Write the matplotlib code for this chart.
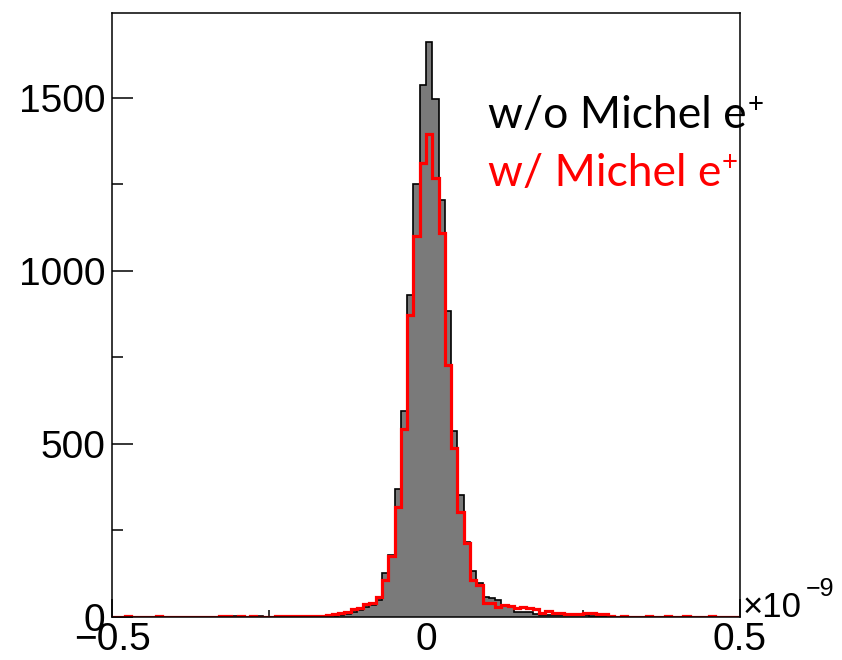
import numpy as np
import matplotlib
matplotlib.use("Agg")
import matplotlib.pyplot as plt
from matplotlib.ticker import MultipleLocator, FixedLocator

# ---- data (counts per bin, 100 bins from -0.5 to 0.5, x10^-9) ----
x_min, x_max, n_bins = -0.5, 0.5, 100

wo_michel = [
    0, 0, 1, 0, 0, 0, 0, 1, 0, 0,
    0, 0, 0, 0, 0, 0, 0, 1, 2, 2,
    1, 0, 1, 2, 0, 1, 2, 2, 1, 1,
    2, 2, 2, 3, 3, 4, 6, 9, 14, 20,
    28, 36, 50, 126, 180, 369, 596, 931, 1251, 1537,
    1661, 1496, 1205, 884, 536, 353, 216, 134, 98, 59,
    54, 49, 32, 28, 15, 15, 13, 8, 6, 6,
    6, 5, 5, 5, 5, 5, 4, 3, 2, 2,
    1, 1, 1, 0, 1, 0, 0, 1, 0, 0,
    0, 1, 0, 0, 0, 0, 0, 0, 0, 0,
]

w_michel = [
    0, 1, 4, 1, 0, 0, 0, 4, 1, 0,
    0, 0, 0, 0, 0, 0, 1, 4, 4, 1,
    4, 1, 4, 1, 1, 1, 4, 4, 4, 4,
    2, 3, 4, 4, 5, 8, 12, 15, 24, 26,
    38, 39, 59, 107, 177, 318, 543, 873, 1099, 1310,
    1395, 1267, 1110, 728, 488, 304, 214, 107, 92, 40,
    40, 28, 35, 33, 26, 28, 25, 22, 12, 17,
    12, 12, 10, 10, 10, 12, 12, 10, 8, 2,
    1, 4, 1, 0, 1, 4, 1, 0, 4, 1,
    0, 4, 1, 0, 1, 4, 1, 0, 0, 1,
]

x_ticks = [-0.5, 0.0, 0.5]
x_tick_labels = ["\u22120.5", "0", "0.5"]
y_ticks = [0, 500, 1000, 1500]
y_tick_labels = ["0", "500", "1000", "1500"]
label_wo = "w/o Michel e"
label_w = "w/ Michel e"

# ---- figure ----
W, H = 842, 660
fig = plt.figure(figsize=(W / 100, H / 100), dpi=100)
ax = fig.add_axes([112 / W, 1 - 617 / H, (740 - 112) / W, (617 - 13) / H])

edges = np.linspace(x_min, x_max, n_bins + 1)
ax.stairs(wo_michel, edges, fill=True, facecolor="#7a7a7a", edgecolor="none", zorder=2)
ax.stairs(wo_michel, edges, fill=False, color="black", linewidth=1.2, baseline=0, zorder=3)
ax.stairs(w_michel, edges, fill=False, color="red", linewidth=2.3, baseline=0, zorder=4)

ax.set_xlim(x_min, x_max)
ax.set_ylim(0, 1.05 * max(wo_michel))

for s in ax.spines.values():
    s.set_linewidth(1.1)
    s.set_zorder(5)

tick_font = {"family": "Liberation Sans", "size": 28}
ax.xaxis.set_major_locator(FixedLocator(x_ticks))
ax.xaxis.set_minor_locator(FixedLocator([-0.25, 0.25]))
ax.yaxis.set_major_locator(FixedLocator(y_ticks))
ax.yaxis.set_minor_locator(MultipleLocator(250))
ax.set_xticklabels(x_tick_labels, fontdict=tick_font)
ax.set_yticklabels(y_tick_labels, fontdict=tick_font)
ax.tick_params(axis="both", which="both", direction="in", top=False, right=False, width=1.1)
ax.tick_params(axis="y", which="major", length=15, pad=5)
ax.tick_params(axis="y", which="minor", length=8)
ax.tick_params(axis="x", which="major", length=13, pad=3.5)
ax.tick_params(axis="x", which="minor", length=5)

# exponent label
fig.text(743 / W, 1 - 617 / H, "\u00d710", family="Liberation Sans", fontsize=25,
         ha="left", va="baseline")
fig.text(806 / W, 1 - 596 / H, "\u22129", family="Liberation Sans", fontsize=18,
         ha="left", va="baseline")

# legend-like texts
leg_font = "Lato"
t1 = ax.text(0.599, 0.81, label_wo, transform=ax.transAxes, family=leg_font,
             fontsize=32, color="black", ha="left", va="baseline")
t2 = ax.text(0.599, 0.713, label_w, transform=ax.transAxes, family=leg_font,
             fontsize=32, color="red", ha="left", va="baseline")

fig.canvas.draw()
r = fig.canvas.get_renderer()
for t, col in ((t1, "black"), (t2, "red")):
    bb = t.get_window_extent(r)
    x_px = bb.x1 + 0.5
    y_base = t.get_transform().transform(t.get_position())[1]
    fig.text(x_px / W, (y_base + 15) / H,
             "+", family=leg_font, fontsize=20, color=col, ha="left", va="baseline")

fig.savefig("out.png", dpi=100)
